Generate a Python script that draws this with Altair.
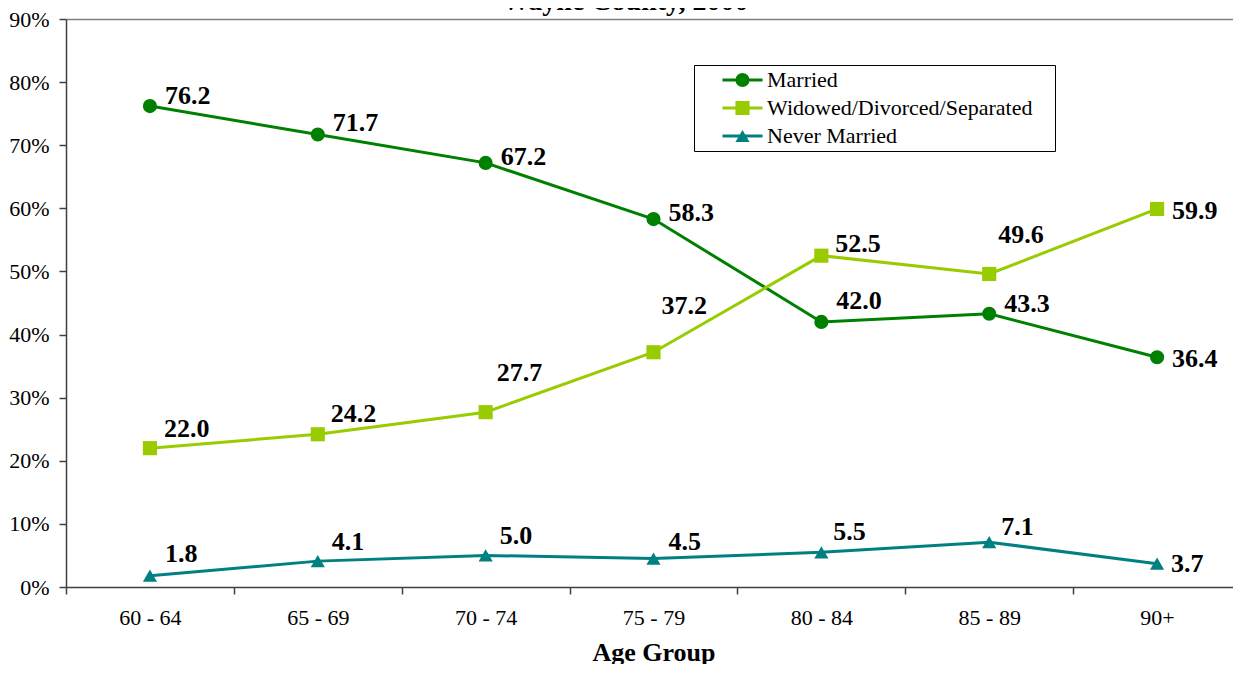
import altair as alt
import pandas as pd

# ---- data ----
age_groups = ["60 - 64", "65 - 69", "70 - 74", "75 - 79", "80 - 84", "85 - 89", "90+"]
series_names = ["Married", "Widowed/Divorced/Separated", "Never Married"]
married = [76.2, 71.7, 67.2, 58.3, 42.0, 43.3, 36.4]
widowed = [22.0, 24.2, 27.7, 37.2, 52.5, 49.6, 59.9]
never_married = [1.8, 4.1, 5.0, 4.5, 5.5, 7.1, 3.7]
y_ticks = [0, 10, 20, 30, 40, 50, 60, 70, 80, 90]

# label nudges (pixels) for the data labels, as placed in the reference
married_lbl_dx = [15, 15, 15, 15, 15, 15, 15]
married_lbl_dy = [-10, -11, -6, -6, -21, -10, 2]
widowed_lbl_dx = [14, 13, 11, 8, 14, 9, 15]
widowed_lbl_dy = [-19, -20, -39, -46, -12, -39, 2]
never_lbl_dx = [15, 14, 14, 15, 12, 12, 14]
never_lbl_dy = [-22, -19, -19, -17, -20, -15, 0]

colors = ["#008000", "#99CC00", "#008080"]
shapes = ["circle", "square", "triangle-up"]

rows = []
for name, vals, dxs, dys in [
    (series_names[0], married, married_lbl_dx, married_lbl_dy),
    (series_names[1], widowed, widowed_lbl_dx, widowed_lbl_dy),
    (series_names[2], never_married, never_lbl_dx, never_lbl_dy),
]:
    for i, (a, v, dx, dy) in enumerate(zip(age_groups, vals, dxs, dys)):
        rows.append({"age": a, "idx": i, "status": name, "status2": name + " ",
                     "value": v, "ldx": dx, "ldy": dy})
df = pd.DataFrame(rows)

FONT = "Liberation Serif"
PAD_TXT = "\u00a0\u2800"  # untrimmed blank tail that widens the legend box

x_enc = alt.X("age:N", scale=alt.Scale(type="band", domain=age_groups, paddingInner=0, paddingOuter=0),
              bandPosition=0.5,
              axis=alt.Axis(title="Age Group", labelAngle=0, tickBand="extent", labelFontSize=22,
                            labelFont=FONT, labelColor="black", labelPadding=13,
                            titleFont=FONT, titleFontSize=26, titleFontWeight="bold", titleColor="black",
                            titlePadding=11, domainColor="#404040", domainWidth=1.5,
                            tickColor="#404040", tickWidth=1.5, tickSize=7, grid=False))
y_enc = alt.Y("value:Q", scale=alt.Scale(domain=[0, 90], nice=False, zero=True),
              axis=alt.Axis(title=None, values=y_ticks, labelExpr="datum.value + '%'",
                            labelFont=FONT, labelFontSize=22, labelColor="black", labelPadding=10,
                            domainColor="#404040", domainWidth=1.5, tickColor="#404040",
                            tickWidth=1.5, tickSize=7, grid=True,
                            gridColor={"condition": {"test": "datum.value == 90", "value": "#808080"},
                                       "value": "transparent"},
                            gridWidth=1.5))

lines = alt.Chart(df).mark_line(strokeWidth=3).encode(
    x=x_enc, y=y_enc,
    order=alt.Order("idx:Q"),
    color=alt.Color("status:N", scale=alt.Scale(domain=series_names, range=colors),
                    legend=alt.Legend(title=None, orient="none", legendX=628, legendY=46,
                                      direction="vertical", symbolType="stroke", symbolSize=1600,
                                      symbolStrokeWidth=3, symbolOffset=26, labelOffset=3,
                                      clipHeight=28, rowPadding=0, padding=1,
                                      labelFont=FONT, labelFontSize=22, labelColor="black",
                                      labelExpr="datum.label + '" + PAD_TXT + "'",
                                      strokeColor="black", labelLimit=500)),
)

points = alt.Chart(df).mark_point(filled=True, size=200, opacity=1).encode(
    x=x_enc, y=y_enc,
    fill=alt.Fill("status2:N", scale=alt.Scale(domain=[s + " " for s in series_names], range=colors),
                  legend=alt.Legend(title=None, orient="none", legendX=628, legendY=46,
                                    direction="vertical", symbolSize=200, symbolStrokeWidth=0,
                                    symbolOffset=36.5, labelOffset=8, clipHeight=28, rowPadding=0,
                                    padding=1, labelFont=FONT, labelFontSize=22,
                                    labelExpr="''")),
    shape=alt.Shape("status2:N", scale=alt.Scale(domain=[s + " " for s in series_names], range=shapes)),
)

labels = alt.Chart(df).mark_text(align="left", baseline="middle", font=FONT, fontSize=26,
                                 fontWeight="bold", color="black",
                                 dx=alt.ExprRef("datum.ldx"), dy=alt.ExprRef("datum.ldy")).encode(
    x=x_enc, y=y_enc,
    text=alt.Text("value:Q", format=".1f"),
)

chart = alt.layer(lines, points, labels).properties(
    width=1175, height=568,
    title=alt.TitleParams("Wayne County, 2000", font=FONT, fontSize=28, fontWeight="bold",
                          color="black", anchor="middle", frame="bounds", offset=0, dy=8),
    padding={"left": 58, "top": 11, "right": -8, "bottom": 77},
    autosize=alt.AutoSizeParams(type="none"),
).configure_view(stroke=None).configure(font=FONT)

chart.save("out.html", embed_options={"renderer": "svg", "actions": False})
